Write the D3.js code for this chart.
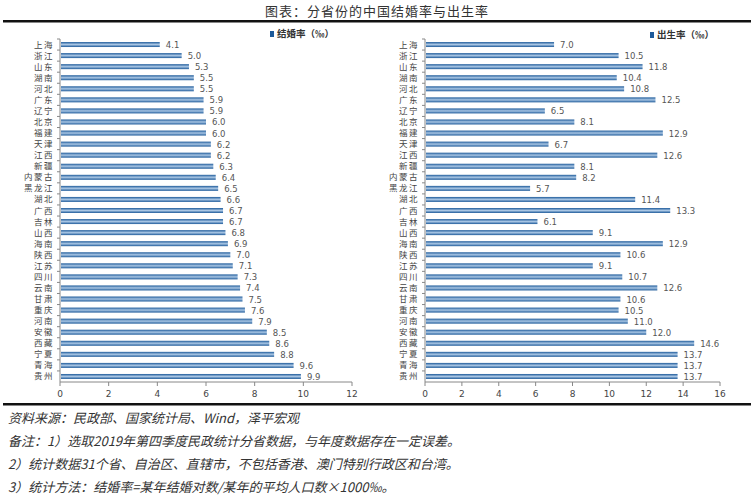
<!DOCTYPE html><html><head><meta charset="utf-8"><script src="https://d3js.org/d3.v7.min.js"></script>
<style>body{margin:0;background:#fff}</style></head><body><script>
const provinces=["上海","浙江","山东","湖南","河北","广东","辽宁","北京","福建","天津","江西","新疆","内蒙古","黑龙江","湖北","广西","吉林","山西","海南","陕西","江苏","四川","云南","甘肃","重庆","河南","安徽","西藏","宁夏","青海","贵州"];
const marriage=[4.1,5.0,5.3,5.5,5.5,5.9,5.9,6.0,6.0,6.2,6.2,6.3,6.4,6.5,6.6,6.7,6.7,6.8,6.9,7.0,7.1,7.3,7.4,7.5,7.6,7.9,8.5,8.6,8.8,9.6,9.9];
const birthProvinces=provinces;
const birth=[7.0,10.5,11.8,10.4,10.8,12.5,6.5,8.1,12.9,6.7,12.6,8.1,8.2,5.7,11.4,13.3,6.1,9.1,12.9,10.6,9.1,10.7,12.6,10.6,10.5,11.0,12.0,14.6,13.7,13.7,13.7];
const leftTicks=[0,2,4,6,8,10,12], rightTicks=[0,2,4,6,8,10,12,14,16];
const W=754,H=500;
const svg=d3.select("body").append("svg").attr("width",W).attr("height",H);
const g=svg.append("defs").append("linearGradient").attr("id","gr").attr("x1",0).attr("x2",0).attr("y1",0).attr("y2",1);
g.append("stop").attr("offset","0%").attr("stop-color","#1d5a9a");
g.append("stop").attr("offset","50%").attr("stop-color","#a9c6e4");
g.append("stop").attr("offset","100%").attr("stop-color","#1d5a9a");
const cjk="'Noto Sans CJK SC','Noto Sans',sans-serif";
svg.append("text").attr("x",377).attr("y",16).attr("text-anchor","middle").attr("font-family",cjk).attr("font-size",13).attr("fill","#333").attr("letter-spacing",1).text("图表：分省份的中国结婚率与出生率");
svg.append("rect").attr("x",3).attr("y",20).attr("width",748).attr("height",2.5).attr("fill","#111");
svg.append("rect").attr("x",3).attr("y",403).attr("width",748).attr("height",2.5).attr("fill","#111");
function chart(x0,x1,max,ticks,vals,legend,lx,ly,cats){
  const x=d3.scaleLinear().domain([0,max]).range([x0,x1]);
  const y=d3.scaleBand().domain(cats).range([39,382]).paddingInner(0.55).paddingOuter(0.275);
  const G=svg.append("g");
  G.append("line").attr("x1",x0).attr("x2",x0).attr("y1",39).attr("y2",382).attr("stroke","#888");
  G.append("line").attr("x1",x0).attr("x2",x1).attr("y1",382).attr("y2",382).attr("stroke","#888");
  cats.forEach((c,i)=>{
    const step=y.step();
    G.append("line").attr("x1",x0-3).attr("x2",x0).attr("y1",39+i*step).attr("y2",39+i*step).attr("stroke","#888");
  });
  ticks.forEach(t=>{
    G.append("line").attr("x1",x(t)).attr("x2",x(t)).attr("y1",382).attr("y2",386).attr("stroke","#888");
    G.append("text").attr("x",x(t)).attr("y",397).attr("text-anchor","middle").attr("font-family","'DejaVu Sans',sans-serif").attr("font-size",9).attr("fill","#444").text(t);
  });
  G.selectAll("rect.b").data(vals).join("rect").attr("x",x0+1).attr("y",(d,i)=>y(cats[i])).attr("width",d=>x(d)-x0-1).attr("height",y.bandwidth()).attr("fill","url(#gr)");
  G.selectAll("text.v").data(vals).join("text").attr("x",d=>x(d)+6).attr("y",(d,i)=>y(cats[i])+y.bandwidth()/2+3.5).attr("font-family","'DejaVu Sans',sans-serif").attr("font-size",8.5).attr("fill","#555").text(d=>d.toFixed(1));
  G.selectAll("text.c").data(cats).join("text").attr("x",x0-6).attr("y",d=>y(d)+y.bandwidth()/2+3).attr("text-anchor","end").attr("font-family",cjk).attr("font-size",8.5).attr("letter-spacing",1.5).attr("fill","#444").text(d=>d);
  G.append("rect").attr("x",lx).attr("y",ly-6).attr("width",4).attr("height",6).attr("fill","#1d5a9a");
  G.append("text").attr("x",lx+7).attr("y",ly).attr("font-family",cjk).attr("font-size",9.5).attr("font-weight","bold").attr("fill","#333").text(legend);
}
chart(60,352,12,leftTicks,marriage,"结婚率（‰）",270,37,provinces);
chart(425,720,16,rightTicks,birth,"出生率（‰）",650,38,birthProvinces);
const notes=["资料来源：民政部、国家统计局、Wind，泽平宏观","备注：1）选取2019年第四季度民政统计分省数据，与年度数据存在一定误差。","2）统计数据31个省、自治区、直辖市，不包括香港、澳门特别行政区和台湾。","3）统计方法：结婚率=某年结婚对数/某年的平均人口数×1000‰。"];
notes.forEach((t,i)=>svg.append("text").attr("x",8).attr("y",423+i*23).attr("font-family",cjk).attr("font-size",13).attr("font-style","italic").attr("fill","#333").text(t));
</script></body></html>
